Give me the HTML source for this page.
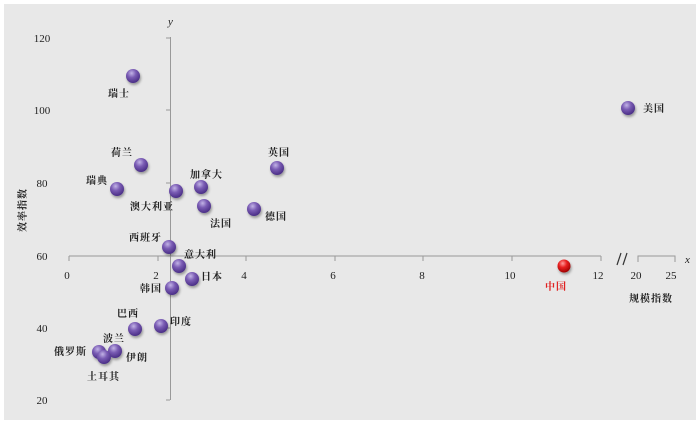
<!DOCTYPE html>
<html><head><meta charset="utf-8"><style>
html,body{margin:0;padding:0;background:#fff;}
svg{display:block;}
text{font-family:"Liberation Serif","Noto Serif CJK SC",serif;fill:#222;}
.c{font-family:"Noto Serif CJK SC","WenQuanYi Zen Hei",serif;font-size:10px;font-weight:bold;letter-spacing:1px;}
.t{font-size:11px;}
</style></head><body>
<svg width="700" height="426" viewBox="0 0 700 426">
<defs>
<radialGradient id="p" cx="0.4" cy="0.3" r="0.7">
<stop offset="0" stop-color="#c2b3e6"/><stop offset="0.45" stop-color="#7a5cb4"/><stop offset="1" stop-color="#4a2e86"/></radialGradient>
<radialGradient id="r" cx="0.4" cy="0.3" r="0.7">
<stop offset="0" stop-color="#ff9a9a"/><stop offset="0.45" stop-color="#e82020"/><stop offset="1" stop-color="#a00000"/></radialGradient>
<filter id="s" x="-50%" y="-50%" width="200%" height="200%"><feDropShadow dx="1" dy="2" stdDeviation="1.2" flood-color="#000" flood-opacity="0.35"/></filter>
</defs>
<rect x="4" y="4" width="692" height="416" fill="#e8e8e8"/>
<g stroke="#999" stroke-width="1" fill="none">
<line x1="69" y1="256" x2="601" y2="256"/>
<line x1="69" y1="256" x2="69" y2="261"/><line x1="158" y1="256" x2="158" y2="261"/><line x1="246" y1="256" x2="246" y2="261"/><line x1="335" y1="256" x2="335" y2="261"/><line x1="423" y1="256" x2="423" y2="261"/><line x1="512" y1="256" x2="512" y2="261"/><line x1="601" y1="256" x2="601" y2="261"/>
<polyline points="638,262 638,256 675,256 675,262"/>
<line x1="170.5" y1="37" x2="170.5" y2="400"/>
<line x1="166" y1="38" x2="170" y2="38"/><line x1="166" y1="110" x2="170" y2="110"/><line x1="166" y1="183" x2="170" y2="183"/><line x1="166" y1="328" x2="170" y2="328"/><line x1="166" y1="400" x2="170" y2="400"/>
</g>
<g stroke="#333" stroke-width="1.2"><line x1="617" y1="265" x2="621" y2="253"/><line x1="623" y1="265" x2="627" y2="253"/></g>
<g class="t" text-anchor="middle">
<text x="42" y="42">120</text><text x="42" y="114">100</text><text x="42" y="187">80</text><text x="42" y="260">60</text><text x="42" y="332">40</text><text x="42" y="404">20</text>
<text x="67" y="279">0</text><text x="156" y="279">2</text><text x="244" y="279">4</text><text x="333" y="279">6</text><text x="422" y="279">8</text><text x="510" y="279">10</text><text x="598" y="279">12</text><text x="636" y="279">20</text><text x="671" y="279">25</text>
</g>
<text x="168" y="25" font-style="italic" font-size="11">y</text>
<text x="685" y="263" font-style="italic" font-size="11">x</text>
<text class="c" x="629" y="302">规模指数</text>
<text class="c" transform="translate(26,232) rotate(-90)">效率指数</text>
<g filter="url(#s)" fill="url(#p)">
<circle cx="133" cy="76" r="7"/><circle cx="141" cy="165" r="7"/><circle cx="117" cy="189" r="7"/><circle cx="176" cy="191" r="7"/><circle cx="201" cy="187" r="7"/><circle cx="204" cy="206" r="7"/><circle cx="254" cy="209" r="7"/><circle cx="277" cy="168" r="7"/><circle cx="628" cy="108" r="7"/>
<circle cx="169" cy="247" r="7"/><circle cx="179" cy="266" r="7"/><circle cx="192" cy="279" r="7"/><circle cx="172" cy="288" r="7"/><circle cx="135" cy="329" r="7"/><circle cx="161" cy="326" r="7"/><circle cx="99" cy="352" r="7"/><circle cx="115" cy="351" r="7"/><circle cx="104" cy="357" r="7"/>
</g>
<circle cx="564" cy="266" r="6.5" fill="url(#r)" filter="url(#s)"/>
<g class="c">
<text x="108" y="97">瑞士</text><text x="111" y="156">荷兰</text><text x="86" y="184">瑞典</text><text x="130" y="210">澳大利亚</text><text x="190" y="178">加拿大</text><text x="210" y="227">法国</text><text x="265" y="220">德国</text><text x="268" y="156">英国</text><text x="643" y="112">美国</text>
<text x="129" y="241">西班牙</text><text x="184" y="258">意大利</text><text x="201" y="280">日本</text><text x="140" y="292">韩国</text><text x="117" y="317">巴西</text><text x="170" y="325">印度</text><text x="103" y="342">波兰</text><text x="54" y="355">俄罗斯</text><text x="126" y="361">伊朗</text><text x="87" y="380">土耳其</text>
<text x="545" y="290" style="fill:#e02020">中国</text>
</g>
</svg>
</body></html>
